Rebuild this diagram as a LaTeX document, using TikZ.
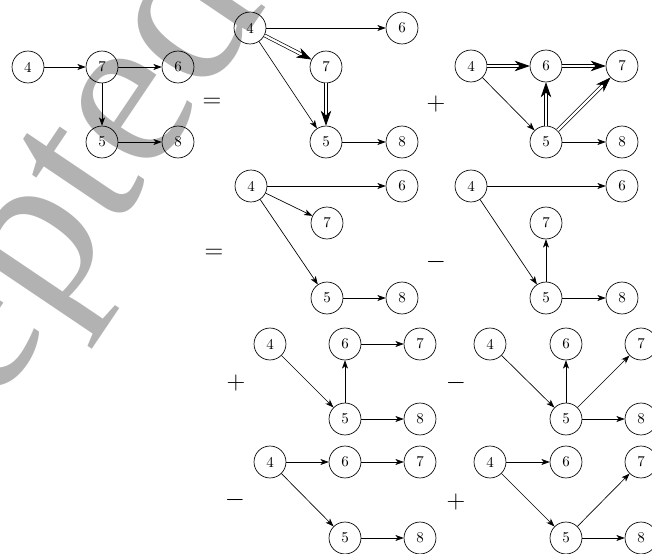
\documentclass[tikz,border=0pt]{standalone}
\usepackage{fontspec}
\newfontfamily\wmfont{Liberation Serif}
\usetikzlibrary{arrows.meta}
\begin{document}
\begin{tikzpicture}[x=0.6667pt,y=-0.6667pt,
  vtx/.style={circle,draw,line width=0.45pt,minimum size=21.3pt,inner sep=0pt,font=\normalsize},
  ed/.style={line width=0.45pt,-{Stealth[length=5.5pt,width=4pt,inset=1.5pt]}},
  dbl/.style={double,double distance=1.5pt,line width=0.45pt,-{Stealth[length=10pt,width=7pt,inset=3pt]}},
  op/.style={font=\fontsize{16}{18}\selectfont}]
\useasboundingbox (0,0) rectangle (652,554);
% watermark
\node[anchor=base,rotate=56,text=black!30,font=\wmfont\fontsize{150}{160}\selectfont,inner sep=0pt] (wm) at (30,357) {Accepted};
% group 0
\node[vtx] (a4) at (28,67) {4};
\node[vtx] (a7) at (102,67) {7};
\node[vtx] (a6) at (178,67) {6};
\node[vtx] (a5) at (102,142) {5};
\node[vtx] (a8) at (178,142) {8};
\draw[ed] (a4) -- (a7); \draw[ed] (a7) -- (a6); \draw[ed] (a7) -- (a5); \draw[ed] (a5) -- (a8);
\node[op] (eq1) at (212,103) {$=$};
% group 1
\node[vtx] (b4) at (250,28) {4};
\node[vtx] (b6) at (402,28) {6};
\node[vtx] (b7) at (326,67) {7};
\node[vtx] (b5) at (326,142) {5};
\node[vtx] (b8) at (402,142) {8};
\draw[ed] (b4) -- (b6); \draw[dbl] (b4) -- (b7); \draw[ed] (b4) -- (b5); \draw[dbl] (b7) -- (b5); \draw[ed] (b5) -- (b8);
\node[op] (pl1) at (436,104) {$+$};
% group 2
\node[vtx] (c4) at (471,66) {4};
\node[vtx] (c6) at (546,66) {6};
\node[vtx] (c7) at (622,66) {7};
\node[vtx] (c5) at (546,142) {5};
\node[vtx] (c8) at (622,142) {8};
\draw[dbl] (c4) -- (c6); \draw[dbl] (c6) -- (c7); \draw[ed] (c4) -- (c5); \draw[dbl] (c5) -- (c6); \draw[dbl] (c5) -- (c7); \draw[ed] (c5) -- (c8);
% row 2 left
\node[op] (eq2) at (214,254) {$=$};
\node[vtx] (d4) at (251,186) {4};
\node[vtx] (d6) at (402,186) {6};
\node[vtx] (d7) at (327,223) {7};
\node[vtx] (d5) at (327,298) {5};
\node[vtx] (d8) at (402,298) {8};
\draw[ed] (d4) -- (d6); \draw[ed] (d4) -- (d7); \draw[ed] (d4) -- (d5); \draw[ed] (d5) -- (d8);
% row 2 right
\node[op] (mi1) at (436,262) {$-$};
\node[vtx] (e4) at (471,186) {4};
\node[vtx] (e6) at (622,186) {6};
\node[vtx] (e7) at (546,223) {7};
\node[vtx] (e5) at (546,298) {5};
\node[vtx] (e8) at (622,298) {8};
\draw[ed] (e4) -- (e6); \draw[ed] (e4) -- (e5); \draw[ed] (e5) -- (e7); \draw[ed] (e5) -- (e8);
% row 3 left
\node[op] (pl2) at (236,383) {$+$};
\node[vtx] (f4) at (270,344) {4};
\node[vtx] (f6) at (345,344) {6};
\node[vtx] (f7) at (420,344) {7};
\node[vtx] (f5) at (345,419) {5};
\node[vtx] (f8) at (420,419) {8};
\draw[ed] (f4) -- (f5); \draw[ed] (f5) -- (f6); \draw[ed] (f6) -- (f7); \draw[ed] (f5) -- (f8);
% row 3 right
\node[op] (mi2) at (456,383) {$-$};
\node[vtx] (g4) at (490,344) {4};
\node[vtx] (g6) at (566,344) {6};
\node[vtx] (g7) at (641,344) {7};
\node[vtx] (g5) at (566,419) {5};
\node[vtx] (g8) at (641,419) {8};
\draw[ed] (g4) -- (g5); \draw[ed] (g5) -- (g6); \draw[ed] (g5) -- (g7); \draw[ed] (g5) -- (g8);
% row 4 left
\node[op] (mi3) at (235,500) {$-$};
\node[vtx] (h4) at (270,462) {4};
\node[vtx] (h6) at (345,462) {6};
\node[vtx] (h7) at (420,462) {7};
\node[vtx] (h5) at (345,538) {5};
\node[vtx] (h8) at (420,538) {8};
\draw[ed] (h4) -- (h6); \draw[ed] (h6) -- (h7); \draw[ed] (h4) -- (h5); \draw[ed] (h5) -- (h8);
% row 4 right
\node[op] (pl3) at (456,502) {$+$};
\node[vtx] (i4) at (490,462) {4};
\node[vtx] (i6) at (566,462) {6};
\node[vtx] (i7) at (641,462) {7};
\node[vtx] (i5) at (566,538) {5};
\node[vtx] (i8) at (641,538) {8};
\draw[ed] (i4) -- (i6); \draw[ed] (i4) -- (i5); \draw[ed] (i5) -- (i7); \draw[ed] (i5) -- (i8);
\end{tikzpicture}
\end{document}
